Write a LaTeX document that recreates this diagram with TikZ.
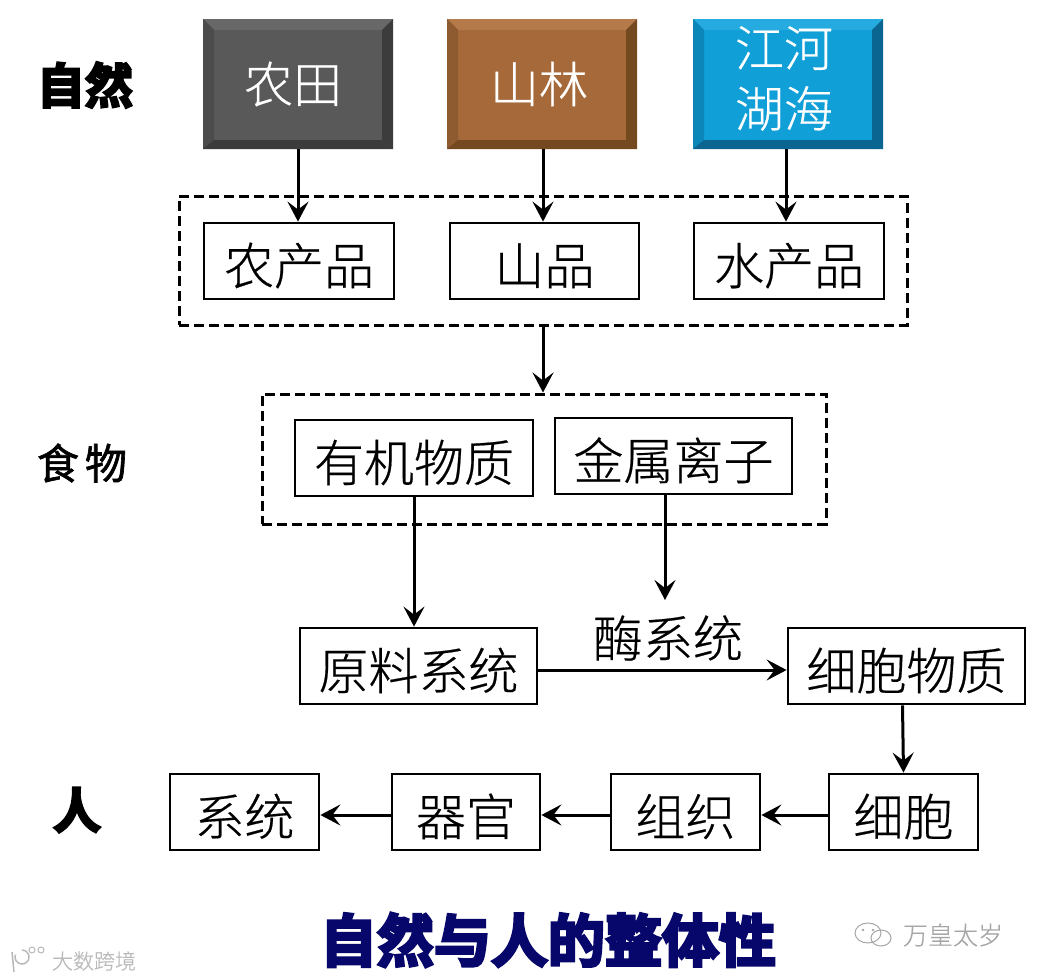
\documentclass[tikz,border=0pt]{standalone}
\usepackage{fontspec}
\usetikzlibrary{arrows.meta,calc}
\newfontfamily\cjk[FakeBold=0.4]{Noto Sans CJK SC Light}
\newfontfamily\cjkheavy[FakeBold=5]{Noto Sans CJK SC Bold}
\newfontfamily\cjkmid[FakeBold=1.5]{Noto Sans CJK SC}
\newcommand{\fs}[1]{\fontsize{#1}{#1}\selectfont}
\newcommand{\bev}[8]{% x0 y0 x1 y1 face top side dark
  \fill[#5] (#1,#2) rectangle (#3,#4);
  \fill[#6] (#1,#2) -- (#3,#2) -- ({#3-11},{#2+11}) -- ({#1+11},{#2+11}) -- cycle;
  \fill[#7] (#1,#2) -- ({#1+11},{#2+11}) -- ({#1+11},{#4-9}) -- (#1,#4) -- cycle;
  \fill[#8] (#3,#2) -- ({#3-11},{#2+11}) -- ({#3-11},{#4-9}) -- (#3,#4) -- cycle;
  \fill[#8] (#1,#4) -- ({#1+11},{#4-9}) -- ({#3-11},{#4-9}) -- (#3,#4) -- cycle;
}
\definecolor{gface}{HTML}{595959}\definecolor{gtop}{HTML}{686868}\definecolor{gside}{HTML}{4C4C4C}\definecolor{gdark}{HTML}{3C3C3C}
\definecolor{bface}{HTML}{A5693A}\definecolor{btop}{HTML}{B47A4A}\definecolor{bside}{HTML}{8E5A30}\definecolor{bdark}{HTML}{74491F}
\definecolor{cface}{HTML}{119FD8}\definecolor{ctop}{HTML}{25ABDF}\definecolor{cside}{HTML}{0C86B8}\definecolor{cdark}{HTML}{0A6590}
\definecolor{navy}{HTML}{06066B}
\tikzset{
  prodbox/.style={draw=black,line width=2.8pt,inner sep=0pt,font=\cjk\fs{50},text=black,text height=53pt,text depth=6pt},
  dashbox/.style={draw=black,line width=3pt,dash pattern=on 10pt off 5pt,inner sep=0pt},
  conn/.style={draw=black,line width=3pt,-{Stealth[length=20pt,width=21pt,inset=8pt]}},
  sidelabel/.style={inner sep=0pt,font=\cjkheavy\fs{48},text=black},
  facelabel/.style={inner sep=0pt,font=\cjk\fs{49},text=white,align=center},
  wm/.style={inner sep=0pt,text=gray!70}
}
\begin{document}
\begin{tikzpicture}[x=1pt,y=-1pt]
\useasboundingbox (0,0) rectangle (1037,980);
\fill[white] (0,0) rectangle (1037,980);

\bev{203}{19}{393}{149}{gface}{gtop}{gside}{gdark}
\bev{447}{19}{637}{149}{bface}{btop}{bside}{bdark}
\bev{693}{19}{883}{149}{cface}{ctop}{cside}{cdark}

\node[facelabel,minimum width=190pt,minimum height=130pt] (tian) at (298,84) {\hspace*{-10pt}农田};
\node[facelabel,minimum width=190pt,minimum height=130pt] (lin) at (542,84) {\hspace*{-6pt}山林};
\node[facelabel,minimum width=190pt,minimum height=130pt] (hai) at (788,84) {\hspace*{-8pt}\raisebox{-4pt}{\begin{tabular}{@{}c@{}}江河\\[5pt]湖海\end{tabular}}};

\node[dashbox,minimum width=728pt,minimum height=129pt] (dashA) at (543,260.5) {};
\node[dashbox,minimum width=564pt,minimum height=130pt] (dashB) at (544,459) {};

\node[prodbox,minimum width=190pt,minimum height=76pt] (nong) at (299,261) {农产品};
\node[prodbox,minimum width=189pt,minimum height=76pt] (shan) at (544.5,261) {山品};
\node[prodbox,minimum width=190pt,minimum height=76pt] (shui) at (789,261) {水产品};

\node[prodbox,minimum width=238pt,minimum height=76pt] (youji) at (414,458) {有机物质};
\node[prodbox,minimum width=237pt,minimum height=76pt] (jinshu) at (673.5,456) {金属离子};
\node[prodbox,minimum width=237pt,minimum height=76pt] (yuanliao) at (418.5,666) {原料系统};
\node[prodbox,minimum width=237pt,minimum height=76pt] (xibaowz) at (906.5,666) {细胞物质};
\node[inner sep=0pt,font=\cjk\fs{50}] (mei) at (668,638) {酶系统};
\coordinate (meitop) at (665,600);

\node[prodbox,minimum width=149pt,minimum height=76pt] (xitong) at (244.5,812) {系统};
\node[prodbox,minimum width=148pt,minimum height=76pt] (qiguan) at (466,812) {器官};
\node[prodbox,minimum width=149pt,minimum height=76pt] (zuzhi) at (685.5,812) {组织};
\node[prodbox,minimum width=149pt,minimum height=76pt] (xibao) at (903.5,812) {细胞};

\node[sidelabel] (ziran) at (85,85) {自然};
\node[inner sep=0pt,font=\cjkmid\fs{42}] (shiwu) at (82,463) {食\hspace{-1pt}\,物};
\node[sidelabel] (ren) at (77,810) {人};
\node[inner sep=0pt,font=\cjkheavy\fs{57},text=navy] (title) at (548,940) {自然与人的整体性};

% watermarks
\node[wm,font=\cjk\fs{25}] (wma) at (953,935) {万皇太岁};
\node[wm,font=\cjk\fs{21},text=gray!55] (wmb) at (94,961) {大数跨境};
\draw[gray!70,line width=1pt] (868,933) ellipse (13pt and 10pt);
\draw[gray!70,line width=1pt] (881,938) ellipse (10pt and 8pt);
\fill[gray!70] (863,930) circle (1.3pt) (873,930) circle (1.3pt);
\draw[gray!55,line width=1.5pt] (12,952) -- (14,972) (22,950) arc (90:-200:7pt);
\draw[gray!55,line width=1pt] (32,950) circle (3pt) (41,950) circle (3pt);

% connectors
\draw[conn] (tian.south) -- (tian.south |- nong.north);
\draw[conn] ($(lin.south)+(1,0)$) -- ($(shan.north)+(-1.5,0)$);
\draw[conn] ($(hai.south)+(-2,0)$) -- ($(shui.north)+(-3,0)$);
\draw[conn] (dashA.south) -- (dashA.south |- dashB.north);
\draw[conn] (youji.south) -- (youji.south |- yuanliao.north);
\draw[conn] (jinshu.south) ++(-8.5,0) -- (meitop);
\draw[conn] ($(yuanliao.east)+(0,4)$) -- ($(xibaowz.west)+(0,4)$);
\draw[conn] ($(xibaowz.south)+(-4,0)$) -- (xibao.north);
\draw[conn] ($(xibao.west)+(0,3)$) -- ($(zuzhi.east)+(0,3)$);
\draw[conn] ($(zuzhi.west)+(0,3)$) -- ($(qiguan.east)+(0,3)$);
\draw[conn] ($(qiguan.west)+(0,3)$) -- ($(xitong.east)+(0,3)$);
\end{tikzpicture}
\end{document}
